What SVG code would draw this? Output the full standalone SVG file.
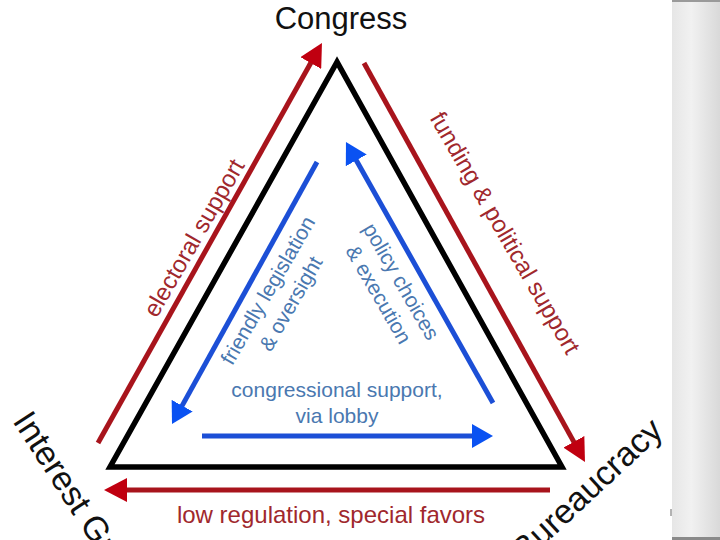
<svg xmlns="http://www.w3.org/2000/svg" width="720" height="540" viewBox="0 0 720 540">
  <defs>
    <linearGradient id="strip" x1="0" y1="0" x2="1" y2="0">
      <stop offset="0" stop-color="#e6e6e6"/>
      <stop offset="0.4" stop-color="#f1f1f1"/>
      <stop offset="1" stop-color="#d9d9d9"/>
    </linearGradient>
    <marker id="redHead" markerUnits="userSpaceOnUse" markerWidth="23" markerHeight="24" viewBox="0 0 23 24" refX="2" refY="12" orient="auto">
      <path d="M0,0 L23,12 L0,24 z" fill="#c00010"/>
    </marker>
    <marker id="blueHead" markerUnits="userSpaceOnUse" markerWidth="21" markerHeight="24" viewBox="0 0 21 24" refX="2" refY="12" orient="auto">
      <path d="M0,0 L21,12 L0,24 z" fill="#0a52f2"/>
    </marker>
  </defs>
  <style>
    .name { font-family: "Liberation Sans", Arial, sans-serif; fill: #111; }
    .red { fill: none; stroke: #a8141c; stroke-width: 5; marker-end: url(#redHead); }
    .blue { fill: none; stroke: #1c4fd6; stroke-width: 5; marker-end: url(#blueHead); }
    .rlab { font-family: "Liberation Sans", Arial, sans-serif; font-size: 24px; fill: #a0282d; text-anchor: middle; }
    .blab { font-family: "Liberation Sans", Arial, sans-serif; font-size: 21px; fill: #4a78b0; text-anchor: middle; }
  </style>
  <rect x="0" y="0" width="720" height="540" fill="#ffffff"/>
  <g id="slide-strip">
    <rect x="672" y="0" width="48" height="540" fill="url(#strip)"/>
    <line x1="672" y1="1" x2="720" y2="1" stroke="#9a9a9a" stroke-width="2"/>
    <line x1="672" y1="538.5" x2="720" y2="538.5" stroke="#8a8a8a" stroke-width="3"/>
    <line x1="671" y1="509" x2="671" y2="516" stroke="#666" stroke-width="1"/>
  </g>

  <g id="triangle">
    <path d="M337,62 L110,467 L562,467 Z" fill="none" stroke="#000" stroke-width="5.5" stroke-linejoin="miter"/>
  </g>

  <g id="connectors">
    <line class="red" x1="98" y1="443" x2="311.7" y2="61.3"/>
    <line class="red" x1="364" y1="63" x2="574.8" y2="443.6"/>
    <line class="red" x1="550" y1="490" x2="125" y2="490"/>
    <line class="blue" x1="317" y1="162" x2="181.2" y2="407.4"/>
    <line class="blue" x1="493" y1="403" x2="355.3" y2="158.6"/>
    <line class="blue" x1="202" y1="436" x2="474" y2="436"/>
  </g>

  <g id="congress">
    <text class="name" x="341" y="29" font-size="31" text-anchor="middle">Congress</text>
  </g>
  <g id="interest-groups">
    <text class="name" font-size="34" transform="translate(12,421) rotate(57)">Interest Groups</text>
  </g>
  <g id="bureaucracy">
    <text class="name" font-size="34" transform="translate(525,563) rotate(-43)">Bureaucracy</text>
  </g>

  <g id="labels">
    <text class="rlab" transform="translate(201,242) rotate(-60)">electoral support</text>
    <text class="rlab" transform="translate(498,237) rotate(60)">funding &amp; political support</text>
    <text class="rlab" x="331" y="523" font-size="23">low regulation, special favors</text>
    <g transform="translate(274,294) rotate(-60)">
      <text class="blab" x="0" y="0">friendly legislation</text>
      <text class="blab" x="0" y="26.5">&amp; oversight</text>
    </g>
    <g transform="translate(395,285) rotate(60)">
      <text class="blab" x="0" y="0">policy choices</text>
      <text class="blab" x="0" y="26">&amp; execution</text>
    </g>
    <text class="blab" x="337" y="397">congressional support,</text>
    <text class="blab" x="337" y="423">via lobby</text>
  </g>
</svg>
